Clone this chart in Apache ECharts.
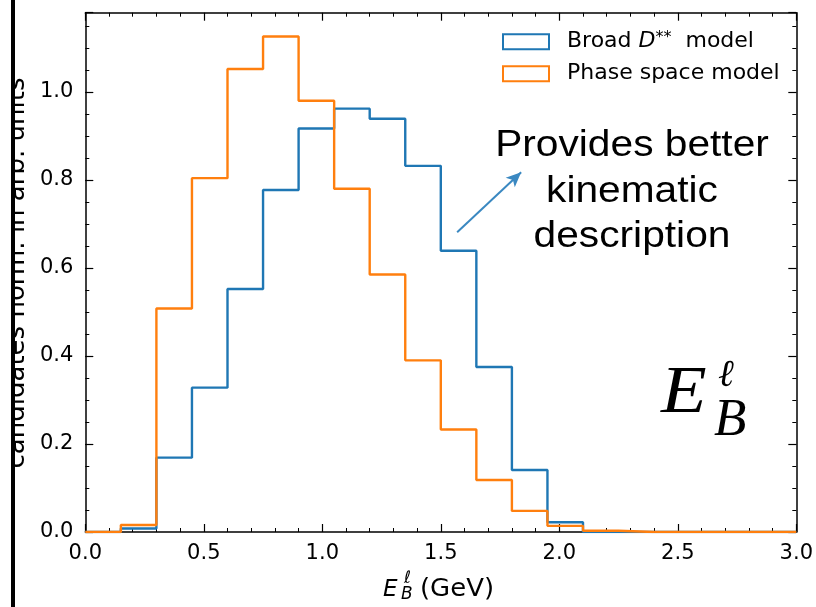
<!DOCTYPE html>
<html><head><meta charset="utf-8">
<script src="https://cdn.jsdelivr.net/npm/echarts@6/dist/echarts.min.js"></script>
<style>html,body{margin:0;padding:0;background:#fff}#c{width:816px;height:607px}</style>
</head><body><div id="c"></div>
<script>
// ---- data ----
const binEdges = [0.00,0.15,0.30,0.45,0.60,0.75,0.90,1.05,1.20,1.35,1.50,1.65,1.80,1.95,2.10,2.25,2.40,2.55,2.70,2.85,3.00];
const broadDss = [0.000,0.008,0.169,0.328,0.552,0.777,0.917,0.962,0.939,0.832,0.639,0.375,0.141,0.022,0.000,0.000,0.000,0.000,0.000,0.000];
const phaseSpace = [0.000,0.016,0.508,0.804,1.052,1.126,0.980,0.780,0.585,0.390,0.233,0.118,0.048,0.014,0.003,0.000,0.000,0.000,0.000,0.000];
const seriesNames = ['Broad D** model','Phase space model'];
const xTickLabels = ['0.0','0.5','1.0','1.5','2.0','2.5','3.0'];
const yTickLabels = ['0.0','0.2','0.4','0.6','0.8','1.0'];
const annotationLines = ['Provides better','kinematic','description'];
const arrowFrom = [1.569, 0.681];
const arrowTo = [1.839, 0.8175];
const yLabelText = 'candidates norm. in arb. units';

// step-histogram outline points (left-edge values, closed to baseline)
function stepPoints(edges, vals){
  const n = vals.length;
  const pts = [[edges[0], 0]];
  for (let i = 0; i < n; i++) pts.push([edges[i], vals[i]]);
  pts.push([edges[n], vals[n-1]]);
  pts.push([edges[n], 0]);
  return pts;
}

const FONT = '"DejaVu Sans", sans-serif';
const BLACK = '#000';
const X_MIN = 0, X_MAX = 3, Y_MIN = 0, Y_MAX = 1.18;

function xLabel(v){ const s = v.toFixed(1); return xTickLabels.indexOf(s) >= 0 ? s : ''; }
function yLabel(v){ const s = v.toFixed(1); return (v <= 1.0001 && yTickLabels.indexOf(s) >= 0) ? s : ''; }

function xAxisDef(pos, showLabel){
  return {
    type:'value', position:pos, min:X_MIN, max:X_MAX, interval:0.5,
    axisLine:{show:true, onZero:false, lineStyle:{color:BLACK, width:1.5}},
    axisTick:{show:true, inside:true, length:8, lineStyle:{color:BLACK, width:1.2}},
    minorTick:{show:true, splitNumber:5, length:4, lineStyle:{color:BLACK, width:1}},
    splitLine:{show:false}, minorSplitLine:{show:false},
    axisLabel:{show:showLabel, formatter:xLabel, fontSize:21, fontFamily:FONT, color:BLACK, margin:11}
  };
}
function yAxisDef(pos, interval, len, showLine, showLabel){
  return {
    type:'value', position:pos, min:Y_MIN, max:Y_MAX, interval:interval,
    axisLine:{show:showLine, onZero:false, lineStyle:{color:BLACK, width:1.5}},
    axisTick:{show:true, inside:true, length:len, lineStyle:{color:BLACK, width: len > 5 ? 1.2 : 1}},
    splitLine:{show:false},
    axisLabel:{show:showLabel, formatter:yLabel, fontSize:21, fontFamily:FONT, color:BLACK, margin:12}
  };
}

function txt(x, y, s, font, extra){
  const el = {type:'text', x:x, y:y, z:10, style:{text:s, x:0, y:0, font:font, fill:BLACK,
    align:'left', textAlign:'left', verticalAlign:'middle', textVerticalAlign:'middle'}};
  if (extra) Object.assign(el, extra);
  return el;
}
function ctxt(x, y, s, font, extra){
  const el = txt(x, y, s, font, extra);
  el.style.align = 'center'; el.style.textAlign = 'center';
  return el;
}

const chart = echarts.init(document.getElementById('c'), null, {renderer:'canvas'});
chart.setOption({
  animation:false,
  backgroundColor:'#fff',
  grid:{left:85.3, right:18.7, top:12.7, bottom:75},
  xAxis:[xAxisDef('bottom', true), xAxisDef('top', false)],
  yAxis:[
    yAxisDef('left', 0.2, 8, true, true),
    yAxisDef('left', 0.05, 4, false, false),
    yAxisDef('right', 0.2, 8, true, false),
    yAxisDef('right', 0.05, 4, false, false)
  ],
  legend:{
    orient:'vertical', left:502, top:29.7, padding:0,
    itemWidth:46, itemHeight:15, itemGap:8, icon:'emptyRect',
    data:seriesNames,
    formatter:function(name){
      if (name === seriesNames[0]) return '{t|Broad }{i|D}{s|**}{t|  model}';
      return '{t|' + name + '}';
    },
    textStyle:{
      padding:[0,0,0,13], lineHeight:24, fontSize:22, fontFamily:FONT, color:BLACK,
      rich:{
        t:{fontSize:22, fontFamily:FONT, color:BLACK, lineHeight:24},
        i:{fontSize:22, fontFamily:FONT, fontStyle:'italic', color:BLACK, lineHeight:24},
        s:{fontSize:16, fontFamily:FONT, color:BLACK, lineHeight:14, verticalAlign:'top'}
      }
    }
  },
  series:[
    {
      name:seriesNames[0], type:'line', step:'end', data:stepPoints(binEdges, broadDss),
      xAxisIndex:0, yAxisIndex:0, showSymbol:false, symbol:'none',
      color:'#1f77b4', lineStyle:{color:'#1f77b4', width:2.4},
      markLine:{
        silent:true, animation:false, symbol:['none','arrow'], symbolSize:[10,15],
        label:{show:false},
        lineStyle:{color:'#3a88c1', width:2, type:'solid'},
        data:[[{coord:arrowFrom}, {coord:arrowTo}]]
      }
    },
    {
      name:seriesNames[1], type:'line', step:'end', data:stepPoints(binEdges, phaseSpace),
      xAxisIndex:0, yAxisIndex:0, showSymbol:false, symbol:'none',
      color:'#ff7f0e', lineStyle:{color:'#ff7f0e', width:2.4}
    }
  ],
  graphic:[
    // annotation text
    ctxt(632, 145.5, annotationLines[0], '37px "Liberation Sans", Arial, sans-serif', {scaleX:1.1}),
    ctxt(632, 191.5, annotationLines[1], '37px "Liberation Sans", Arial, sans-serif', {scaleX:1.1}),
    ctxt(632, 236.5, annotationLines[2], '37px "Liberation Sans", Arial, sans-serif', {scaleX:1.1}),
    // big math label E_B^l
    txt(661, 394.5, 'E', 'italic 68px "Liberation Serif", serif', {scaleX:1.1}),
    txt(718, 375.6, '\u2113', 'italic 38px "Liberation Serif", "DejaVu Serif", serif'),
    txt(714, 421, 'B', 'italic 53px "Liberation Serif", serif'),
    // x axis label E_B^l (GeV)
    txt(383, 589.7, 'E', 'italic 23px "DejaVu Sans", sans-serif'),
    txt(404, 579, '\u2113', 'italic 17px "DejaVu Sans", sans-serif'),
    txt(401, 595, 'B', 'italic 17px "DejaVu Sans", sans-serif'),
    txt(420, 589.9, '(GeV)', '24px "DejaVu Sans", sans-serif', {scaleX:1.08}),
    // rotated (clipped) y label
    ctxt(17.3, 273, yLabelText, '26px "DejaVu Sans", sans-serif', {rotation:Math.PI/2, z:20}),
    {type:'rect', z:21, shape:{x:0, y:0, width:11, height:607}, style:{fill:'#fff'}},
    {type:'rect', z:22, shape:{x:11, y:0, width:4, height:607}, style:{fill:'#000'}}
  ]
});
</script></body></html>
